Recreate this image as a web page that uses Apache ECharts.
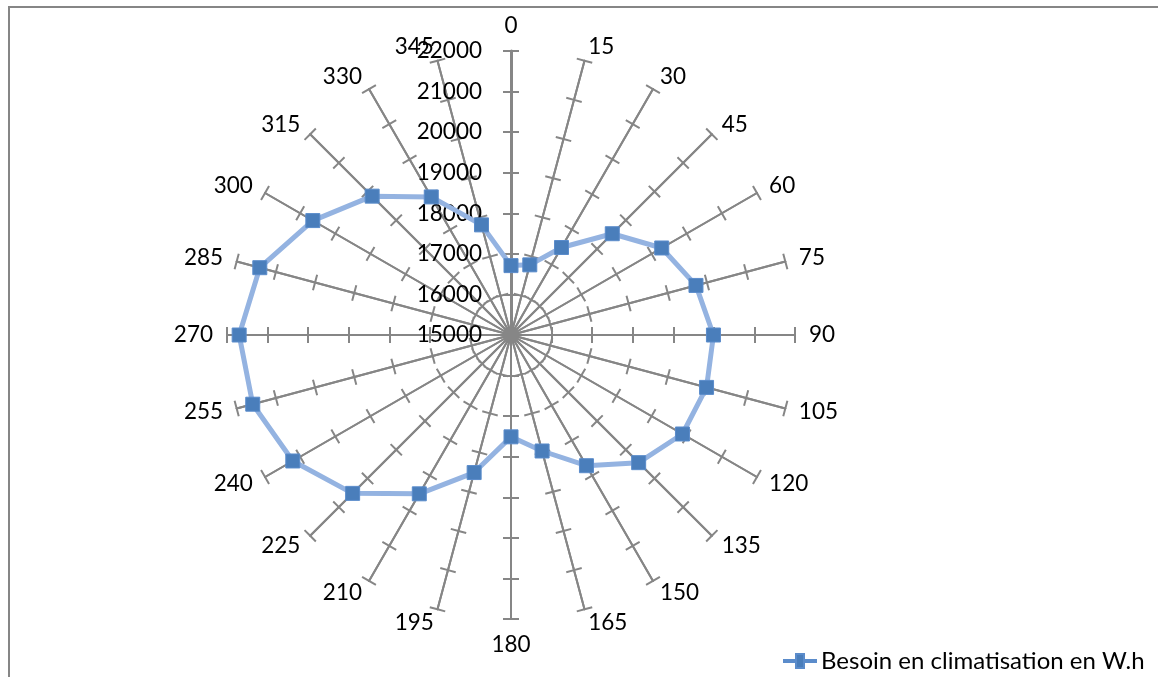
<!DOCTYPE html>
<html>
<head>
<meta charset="utf-8">
<script src="https://cdn.jsdelivr.net/npm/echarts@6/dist/echarts.min.js"></script>
<style>
html,body{margin:0;padding:0;background:#fff;overflow:hidden;}
#frame{position:absolute;left:8px;top:6px;width:2000px;height:2000px;border-left:2px solid #868686;border-top:2px solid #868686;}
#chart{position:absolute;left:0;top:0;width:1158px;height:677px;}
</style>
</head>
<body>
<div id="frame"></div>
<div id="chart"></div>
<script>
const categories = ['0','15','30','45','60','75','90','105','120','135','150','165','180','195','210','225','240','255','270','285','300','315','330','345'];
const seriesName = 'Besoin en climatisation en W.h';
const values = [16710,16790,17490,18530,19290,19720,19990,19990,19880,19450,18720,17960,17510,18510,19520,20520,21210,21590,21700,21410,20640,19840,18930,17810];
const axisMin = 15000;
const axisMax = 22000;
const axisStep = 1000;

const FONT = 'Lato';
const AXIS_COLOR = '#868686';

// ECharts radar runs counter-clockwise; reorder so categories run clockwise.
const order = categories.map((_, k) => (categories.length - k) % categories.length);
const cwCategories = order.map(i => categories[i]);
const cwValues = order.map(i => values[i]);

function makeIndicators(withLabel) {
  return cwCategories.map((c, i) => {
    const ind = { name: c, min: axisMin, max: axisMax };
    if (withLabel && i === 0) {
      ind.axisLabel = { show: true };
      ind.axisLine = { lineStyle: { width: 3 } };
    }
    return ind;
  });
}

const splitNumber = (axisMax - axisMin) / axisStep;

const chart = echarts.init(document.getElementById('chart'), null, { renderer: 'canvas' });
chart.setOption({
  backgroundColor: 'transparent',
  animation: false,
  legend: {
    data: [seriesName],
    left: 778,
    top: 644,
    itemWidth: 32,
    itemHeight: 14,
    itemGap: 0,
    icon: 'path://M0,6 L12,6 L12,0 L20,0 L20,6 L32,6 L32,8 L20,8 L20,14 L12,14 L12,8 L0,8 Z',
    textStyle: { fontFamily: FONT, fontSize: 24, color: '#000' }
  },
  radar: [
    {
      center: [511, 335],
      radius: 284,
      startAngle: 90,
      shape: 'polygon',
      splitNumber: splitNumber,
      indicator: makeIndicators(true),
      axisName: { color: '#000', fontFamily: FONT, fontSize: 22.5 },
      nameGap: 14,
      splitLine: { show: false },
      splitArea: { show: false },
      axisLine: { show: true, lineStyle: { color: AXIS_COLOR, width: 2 } },
      axisTick: { show: true, length: 8, inside: false, lineStyle: { color: AXIS_COLOR, width: 2 } },
      axisLabel: { show: false, color: '#000', fontFamily: FONT, fontSize: 22.5, margin: 29, formatter: v => String(v) }
    },
    {
      center: [511, 335],
      radius: 284,
      startAngle: 90,
      shape: 'polygon',
      splitNumber: splitNumber,
      indicator: makeIndicators(false),
      axisName: { show: false },
      splitLine: { show: false },
      splitArea: { show: false },
      axisLine: { show: true, lineStyle: { color: AXIS_COLOR, width: 2 } },
      axisTick: { show: true, length: -8, inside: false, lineStyle: { color: AXIS_COLOR, width: 2 } },
      axisLabel: { show: false }
    }
  ],
  series: [
    {
      type: 'radar',
      radarIndex: 0,
      symbol: 'rect',
      symbolSize: 14,
      lineStyle: { color: '#94B3E1', width: 5 },
      itemStyle: { color: '#4A7EBB', borderColor: '#5B8CCB', borderWidth: 1 },
      z: 10,
      data: [
        { name: seriesName, value: cwValues }
      ]
    }
  ]
});
</script>
</body>
</html>
